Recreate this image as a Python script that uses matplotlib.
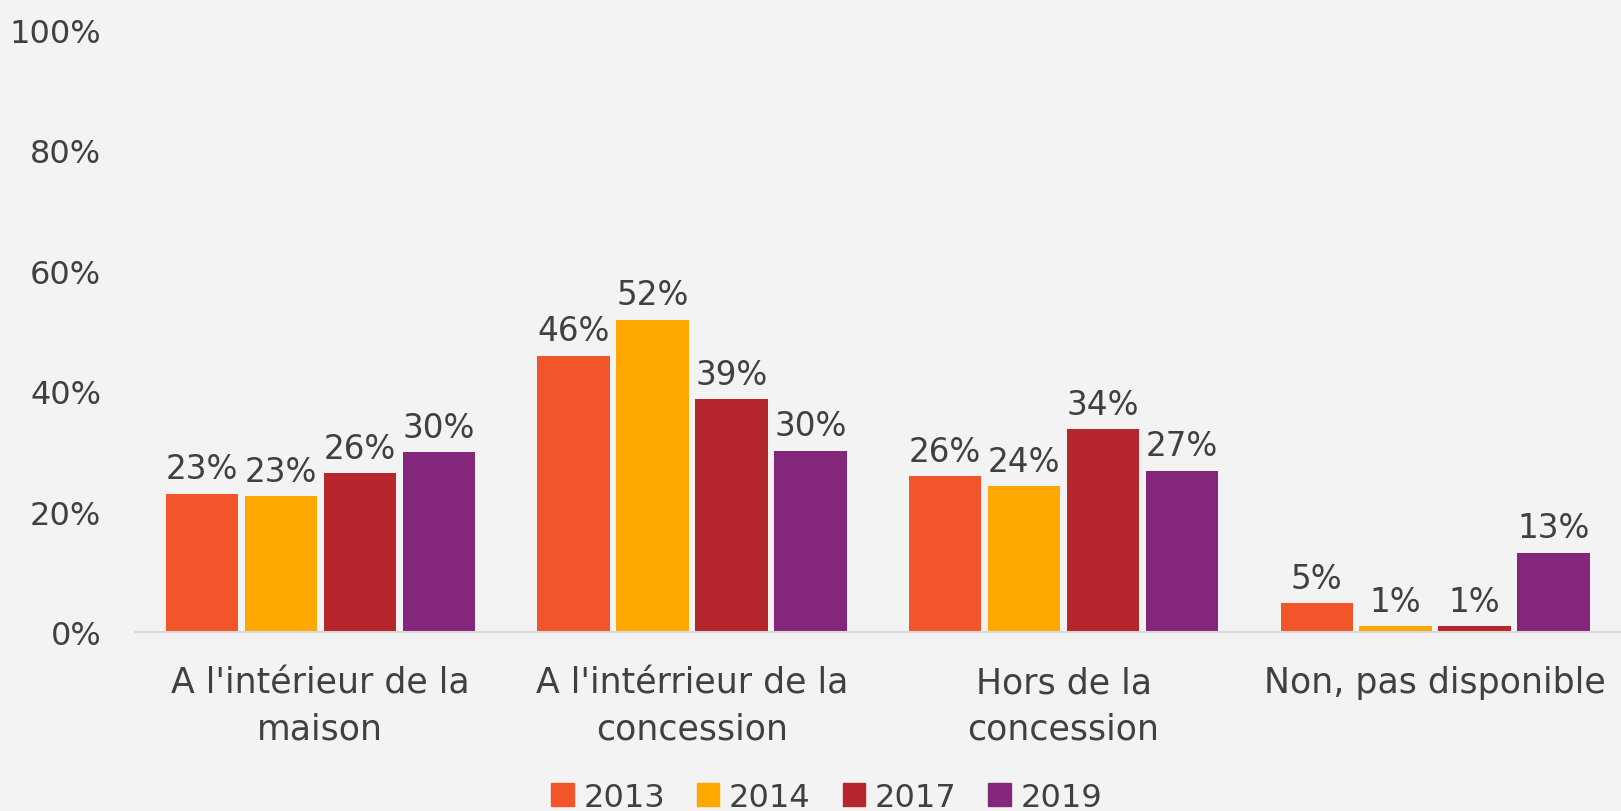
import matplotlib
matplotlib.use("Agg")
import matplotlib.pyplot as plt
import numpy as np
from matplotlib.patches import Patch

categories = ["A l'intérieur de la\nmaison", "A l'intérrieur de la\nconcession",
              "Hors de la\nconcession", "Non, pas disponible"]
years = ["2013", "2014", "2017", "2019"]
v2013 = [23.0, 45.9, 25.9, 4.8]
v2014 = [22.6, 51.9, 24.2, 1.0]
v2017 = [26.4, 38.7, 33.7, 1.0]
v2019 = [29.9, 30.1, 26.8, 13.2]
colors = ["#F15529", "#FFA800", "#B5272D", "#842679"]

bg = "#f3f3f3"
txt = "#404040"
plt.rcParams['font.family'] = ['DejaVu Sans']

fig = plt.figure(figsize=(16.21, 8.12), dpi=100, facecolor=bg)
ax = fig.add_axes([0.083, 0.2204, 0.917, 0.7414])
ax.set_facecolor(bg)

x = np.arange(len(categories))
w = 0.195
pitch = 0.2125
series = [v2013, v2014, v2017, v2019]
for i, (vals, c) in enumerate(zip(series, colors)):
    pos = x + (i - 1.5) * pitch
    ax.bar(pos, vals, width=w, color=c, label=years[i])
    for px, v in zip(pos, vals):
        ax.annotate("%.0f%%" % v, (px, v), xytext=(0, 6), textcoords="offset points",
                    ha="center", va="bottom", fontsize=23.5, color=txt)

ax.set_xlim(-0.5, 3.5)
ax.set_ylim(0, 100)
ax.set_yticks(range(0, 101, 20))
ax.set_yticklabels(["%d%%" % t for t in range(0, 101, 20)], fontsize=23, color=txt)
ax.set_xticks(x)
ax.set_xticklabels(categories, fontsize=25, color=txt, linespacing=1.45)
ax.tick_params(axis="x", length=0, pad=24)
ax.tick_params(axis="y", length=0, pad=24)
for s in ["top", "left", "right"]:
    ax.spines[s].set_visible(False)
ax.spines["bottom"].set_color("#d9d9d9")
ax.spines["bottom"].set_linewidth(1.5)

# legend along the bottom
handles = [Patch(color=c, label=y) for c, y in zip(colors, years)]
fig.legend(handles=handles, loc="center", bbox_to_anchor=(0.51, 0.017), ncol=4,
           frameon=False, fontsize=23, labelcolor=txt, handlelength=0.7, handleheight=0.7,
           handletextpad=0.3, columnspacing=1.0)

fig.savefig("out.png", dpi=100, facecolor=bg)
